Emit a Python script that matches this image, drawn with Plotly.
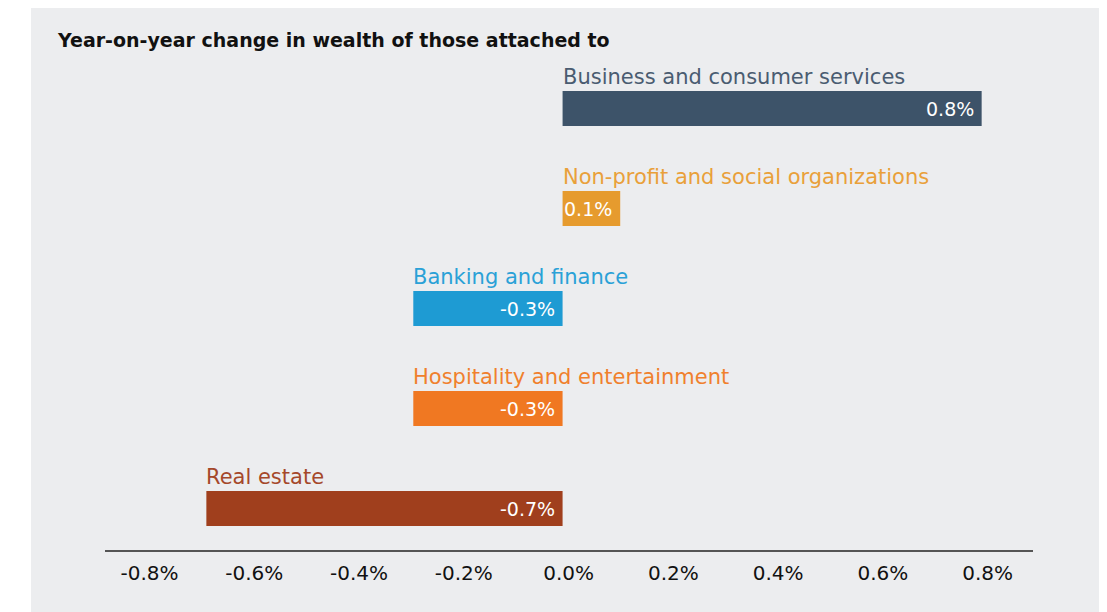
import plotly.graph_objects as go

categories = ["Business and consumer services", "Non-profit and social organizations",
              "Banking and finance", "Hospitality and entertainment", "Real estate"]
values = [0.80, 0.11, -0.285, -0.285, -0.68]
value_labels = ["0.8%", "0.1%", "-0.3%", "-0.3%", "-0.7%"]
bar_colors = ["#3d5369", "#e69b2e", "#1e9bd3", "#f07822", "#a03f1d"]
label_colors = ["#4a5c71", "#e9a03a", "#2aa1d7", "#f0802d", "#a5482a"]
tick_vals = [-0.8, -0.6, -0.4, -0.2, 0.0, 0.2, 0.4, 0.6, 0.8]
tick_text = ["-0.8%", "-0.6%", "-0.4%", "-0.2%", "0.0%", "0.2%", "0.4%", "0.6%", "0.8%"]
title_text = "Year-on-year change in wealth of those attached to"

FONT = "DejaVu Sans"
OFF = 8  # page body margin
W, H = 1107 - OFF, 612 - OFF
ML, MR, MT, MB = 105 - OFF, 74, 60 - OFF, 62
pw, ph = W - ML - MR, H - MT - MB

fig = go.Figure()
fig.add_trace(go.Bar(
    y=categories, x=values, orientation="h",
    marker=dict(color=bar_colors, line=dict(width=0)),
    width=0.35, hoverinfo="skip",
))

annotations = []
for cat, v, txt, lc in zip(categories, values, value_labels, label_colors):
    annotations.append(dict(
        x=min(0, v), y=cat, xref="x", yref="y", text=cat, showarrow=False,
        xanchor="left", yanchor="middle", yshift=32, xshift=-2,
        font=dict(family=FONT, size=21, color=lc),
    ))
    annotations.append(dict(
        x=max(0, v), y=cat, xref="x", yref="y", text=txt, showarrow=False,
        xanchor="right", yanchor="middle", xshift=-6,
        font=dict(family=FONT, size=19, color="white"),
    ))

fig.update_layout(
    width=W, height=H,
    margin=dict(l=ML, r=MR, t=MT, b=MB, pad=0),
    paper_bgcolor="white", plot_bgcolor="rgba(0,0,0,0)",
    showlegend=False,
    font=dict(family=FONT, color="#111111"),
    title=dict(text="<b>" + title_text + "</b>", x=(58 - OFF) / W, xanchor="left", xref="container",
               y=1 - (40 - OFF) / H, yanchor="middle", yref="container",
               font=dict(family=FONT, size=19, color="#111111")),
    xaxis=dict(range=[-0.8735, 0.898], showgrid=False, zeroline=False,
               showline=True, linecolor="#555555", linewidth=1.5,
               tickvals=tick_vals, ticktext=tick_text, ticks="",
               ticklabelshift=6, ticklabelstandoff=4,
               tickfont=dict(family=FONT, size=20, color="#111111"), fixedrange=True),
    yaxis=dict(range=[4.415, -0.485], showgrid=False, zeroline=False, showline=False,
               showticklabels=False, ticks="", fixedrange=True),
    annotations=annotations,
    shapes=[dict(type="rect", xref="paper", yref="paper",
                 x0=(31 - 105) / pw, x1=(W - ML) / pw + 0.01,
                 y0=-(MB + 5) / ph, y1=(ph + MT + 5) / ph,
                 fillcolor="#ecedef", line=dict(width=0), layer="below")],
)

fig.write_html("out.html")
